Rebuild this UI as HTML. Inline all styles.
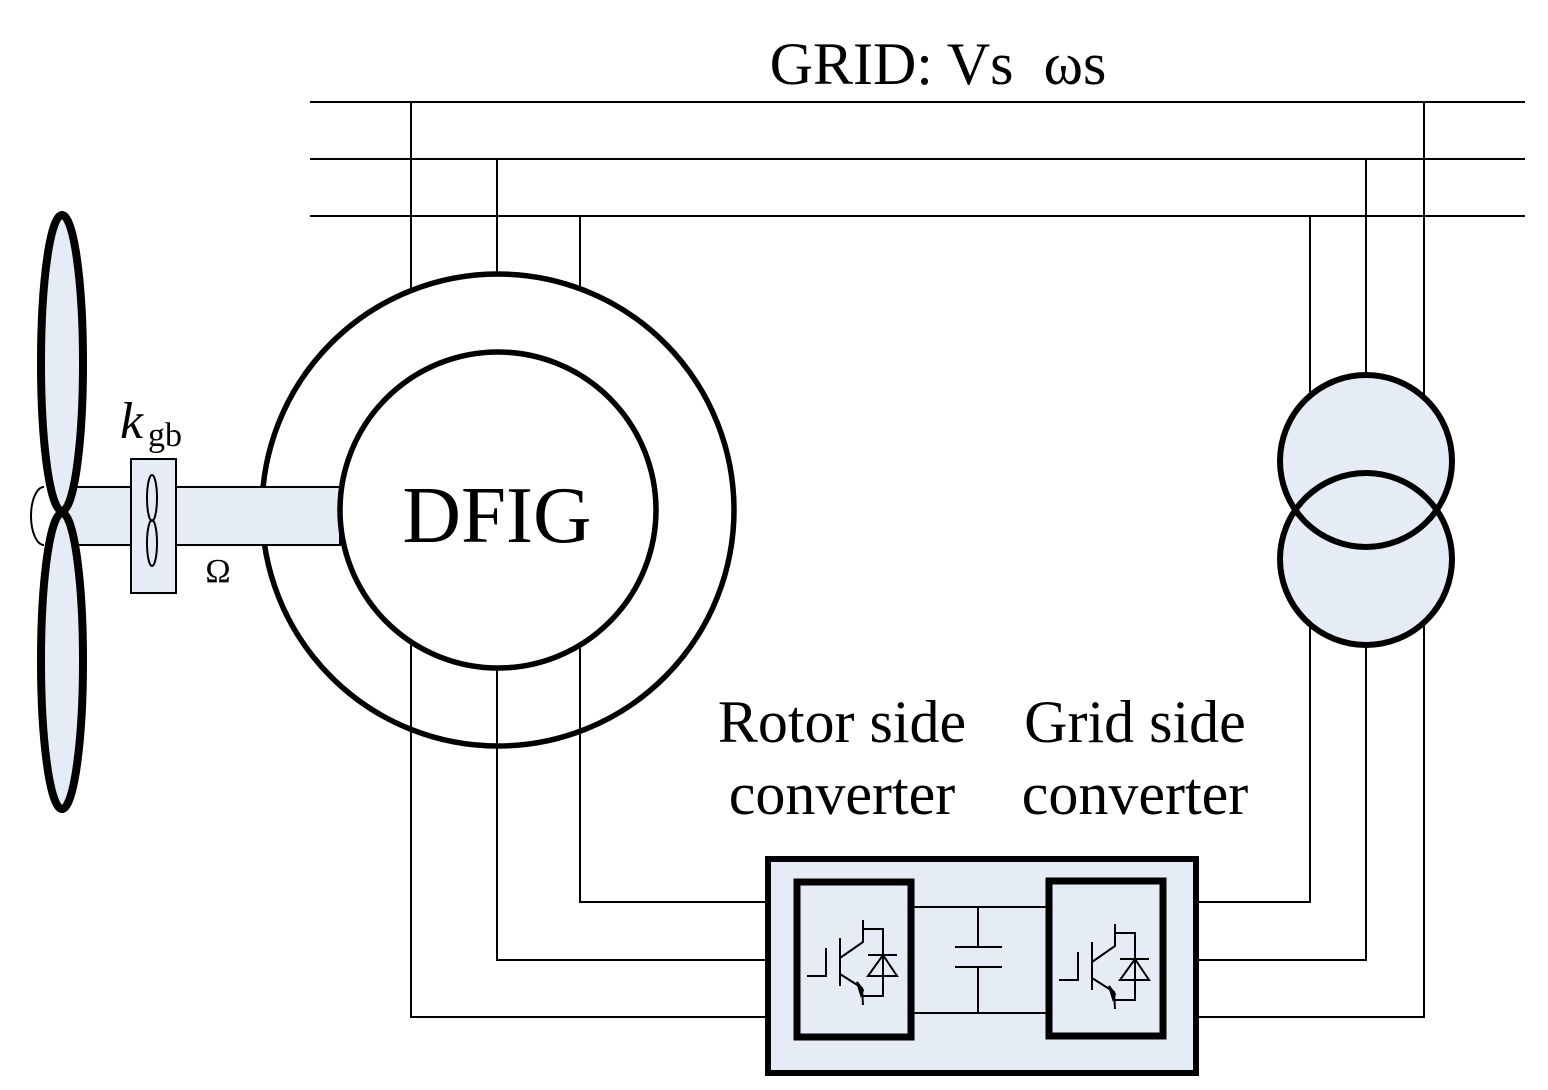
<!DOCTYPE html>
<html><head><style>body{margin:0;background:#fff}svg{display:block}</style></head><body>
<svg width="1548" height="1090" viewBox="0 0 1548 1090" xmlns="http://www.w3.org/2000/svg" font-family="Liberation Serif, serif">
<g stroke="#000" stroke-width="2" fill="none">
<line x1="310" y1="102" x2="1525" y2="102"/>
<line x1="310" y1="159" x2="1525" y2="159"/>
<line x1="310" y1="216" x2="1525" y2="216"/>
<line x1="411" y1="102" x2="411" y2="300"/>
<line x1="497" y1="159" x2="497" y2="300"/>
<line x1="580" y1="216" x2="580" y2="300"/>
<polyline points="1310,216 1310,902 1197,902"/>
<polyline points="1366,159 1366,960 1197,960"/>
<polyline points="1424,102 1424,1017 1197,1017"/>
</g>
<circle cx="498" cy="510" r="236" fill="#fff" stroke="#000" stroke-width="5.5"/>
<g stroke="#000" stroke-width="2" fill="none">
<polyline points="411,600 411,1017 766,1017"/>
<polyline points="497,600 497,960 766,960"/>
<polyline points="580,600 580,902 766,902"/>
</g>
<rect x="62" y="487" width="278" height="58" fill="#e6ecf6" stroke="#000" stroke-width="2"/>
<circle cx="498" cy="510" r="158" fill="#fff" stroke="#000" stroke-width="5.5"/>
<text x="497" y="542" font-size="81" text-anchor="middle">DFIG</text>
<circle cx="1366" cy="461" r="86" fill="#e6ecf6"/>
<circle cx="1366" cy="559" r="86" fill="#e6ecf6"/>
<circle cx="1366" cy="461" r="86" fill="none" stroke="#000" stroke-width="6"/>
<circle cx="1366" cy="559" r="86" fill="none" stroke="#000" stroke-width="6"/>
<path d="M44,487 A13,29 0 0 0 44,545" fill="#fff" stroke="#000" stroke-width="2"/>
<ellipse cx="62" cy="363" rx="21" ry="148" fill="#e6ecf6" stroke="#000" stroke-width="8"/>
<ellipse cx="62" cy="661" rx="21" ry="148" fill="#e6ecf6" stroke="#000" stroke-width="8"/>
<rect x="131" y="459" width="45" height="134" fill="#e6ecf6" stroke="#000" stroke-width="2"/>
<ellipse cx="152" cy="498" rx="5" ry="23" fill="none" stroke="#000" stroke-width="2"/>
<ellipse cx="152" cy="543" rx="5" ry="23" fill="none" stroke="#000" stroke-width="2"/>
<text x="120" y="438" font-size="52" font-style="italic">k</text>
<text x="148" y="446" font-size="34">gb</text>
<text x="218" y="582" font-size="34" text-anchor="middle">Ω</text>
<text x="938" y="84" font-size="60" text-anchor="middle">GRID: Vs&#160; ωs</text>
<text x="842" y="742" font-size="60" text-anchor="middle">Rotor side</text>
<text x="842" y="814" font-size="60" text-anchor="middle">converter</text>
<text x="1135" y="742" font-size="60" text-anchor="middle">Grid side</text>
<text x="1135" y="814" font-size="60" text-anchor="middle">converter</text>
<rect x="768" y="859" width="428" height="214" fill="#e6ecf6" stroke="#000" stroke-width="6"/>
<rect x="797" y="882" width="114" height="155" fill="#e6ecf6" stroke="#000" stroke-width="7"/>
<rect x="1049" y="881" width="114" height="155" fill="#e6ecf6" stroke="#000" stroke-width="7"/>
<g stroke="#000" stroke-width="2" fill="none">
<line x1="911" y1="907" x2="1049" y2="907"/>
<line x1="911" y1="1013" x2="1049" y2="1013"/>
<line x1="978" y1="907" x2="978" y2="947"/>
<line x1="978" y1="967" x2="978" y2="1013"/>
<line x1="955" y1="947" x2="1002" y2="947"/>
<line x1="955" y1="967" x2="1002" y2="967"/>
</g>
<g id="ig" stroke="#000" stroke-width="2" fill="none">
<polyline points="807,976 826,976 826,948"/>
<line x1="840" y1="938" x2="840" y2="986"/>
<polyline points="840,958 863,942 863,920"/>
<polyline points="863,929 883,929 883,976 883,996 863,996"/>
<line x1="868" y1="955" x2="897" y2="955"/>
<polygon points="868,976 897,976 883,955"/>
<polyline points="840,974 862,988 863,1005"/>
<polygon points="857,982 863,990 861,995" fill="#000"/>
</g>
<use href="#ig" x="252" y="4"/>
</svg>
</body></html>
